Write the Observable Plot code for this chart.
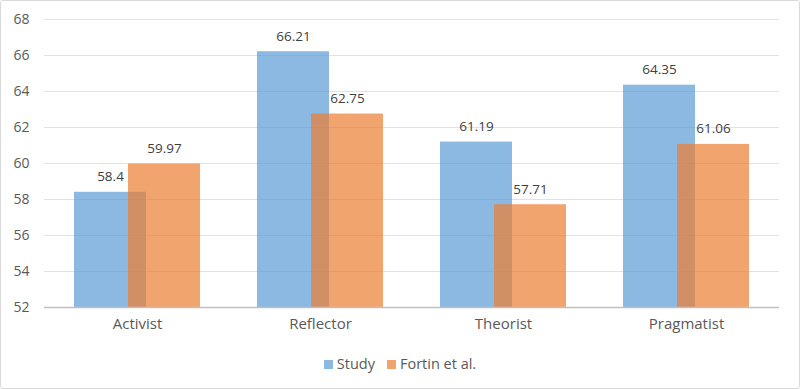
<!DOCTYPE html>
<html>
<head>
<meta charset="utf-8">
<script src="https://cdn.jsdelivr.net/npm/d3@7"></script>
<script src="https://cdn.jsdelivr.net/npm/@observablehq/plot@0.6"></script>
<style>
  html, body { margin: 0; padding: 0; background: #fff; }
  #frame { width: 800px; height: 389px; box-sizing: border-box; border: 1px solid #d9d9d9; border-radius: 3px; overflow: hidden; font-family: "Open Sans", "Liberation Sans", sans-serif; }
  #legend { display: flex; justify-content: center; align-items: center; gap: 12px; font-size: 14.5px; color: #595959; height: 24px; margin-top: 10px; }
  .sw { display: inline-block; width: 9px; height: 9px; margin-right: 4px; vertical-align: 0px; }
</style>
</head>
<body>
<div id="frame"><div id="chart"></div><div id="legend"></div></div>
<script>
const categories = ["Activist", "Reflector", "Theorist", "Pragmatist"];
const seriesNames = ["Study", "Fortin et al."];
const studyValues = [58.4, 66.21, 61.19, 64.35];
const fortinValues = [59.97, 62.75, 57.71, 61.06];
const yTicks = [52, 54, 56, 58, 60, 62, 64, 66, 68];
const colors = ["#5B9BD5", "#ED7D31"];

const study = categories.map((c, i) => ({category: c, value: studyValues[i], series: seriesNames[0]}));
const fortin = categories.map((c, i) => ({category: c, value: fortinValues[i], series: seriesNames[1]}));

const textColor = "#595959";
const chart = Plot.plot({
  width: 798,
  height: 340,
  marginTop: 18,
  marginBottom: 34,
  marginLeft: 43,
  marginRight: 20,
  style: {fontFamily: "'Open Sans', 'Liberation Sans', sans-serif", fontSize: "13px", color: textColor, background: "white"},
  x: {domain: categories, paddingInner: 0.608, paddingOuter: 0.304, label: null, tickSize: 0, tickPadding: 12},
  y: {domain: [52, 68], ticks: yTicks, label: null, tickSize: 0, tickPadding: 16},
  marks: [
    Plot.gridY(yTicks.filter(t => t > 52), {stroke: "#e2e2e2", strokeOpacity: 1, strokeWidth: 1}),
    Plot.barY(study, {x: "category", y1: 52, y2: "value", dx: -27, fill: colors[0], fillOpacity: 0.7}),
    Plot.barY(fortin, {x: "category", y1: 52, y2: "value", dx: 27, fill: colors[1], fillOpacity: 0.7}),
    Plot.ruleY([52], {stroke: "#bfbfbf", strokeWidth: 1.5}),
    Plot.text(study, {x: "category", y: "value", text: d => String(d.value), dx: -27, dy: -11, lineAnchor: "bottom", fill: "#404040", fontSize: 13.5}),
    Plot.text(fortin, {x: "category", y: "value", text: d => String(d.value), dx: 27, dy: -11, lineAnchor: "bottom", fill: "#404040", fontSize: 13.5}),
    Plot.axisX({tickSize: 0, tickPadding: 11, fill: textColor, fontSize: 15}),
    Plot.axisY({ticks: yTicks, tickSize: 0, tickPadding: 15, fill: textColor, fontSize: 14})
  ]
});
document.getElementById("chart").appendChild(chart);

const legend = document.getElementById("legend");
seriesNames.forEach((name, i) => {
  const item = document.createElement("span");
  const sw = document.createElement("span");
  sw.className = "sw";
  sw.style.background = colors[i];
  sw.style.opacity = 0.7;
  item.appendChild(sw);
  item.appendChild(document.createTextNode(name));
  legend.appendChild(item);
});
</script>
</body>
</html>
